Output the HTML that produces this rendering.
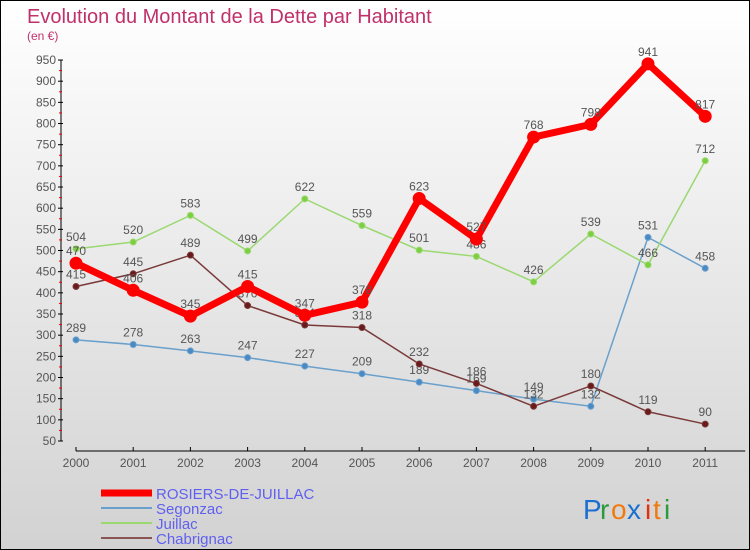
<!DOCTYPE html>
<html><head><meta charset="utf-8"><style>
body{margin:0}
#c{width:748px;height:548px;border:1px solid #000;background:linear-gradient(#fff,#d2d2d2);position:relative;font-family:"Liberation Sans",sans-serif;overflow:hidden}
</style></head><body>
<div id="c">
<svg id="s" width="748" height="548"></svg>
</div>
<script>
const years=["2000","2001","2002","2003","2004","2005","2006","2007","2008","2009","2010","2011"];
const rosiers=[470,406,345,415,347,378,623,527,768,798,941,817];
const segonzac=[289,278,263,247,227,209,189,169,149,132,531,458];
const juillac=[504,520,583,499,622,559,501,486,426,539,466,712];
const chabrignac=[415,445,489,370,324,318,232,186,132,180,119,90];
const yTicks=[50,100,150,200,250,300,350,400,450,500,550,600,650,700,750,800,850,900,950];
const NS="http://www.w3.org/2000/svg",s=document.getElementById('s');
const X=i=>75+i*57.2, Y=v=>440-(v-50)*0.4233;
function el(t,a,p){const e=document.createElementNS(NS,t);for(const k in a)e.setAttribute(k,a[k]);(p||s).appendChild(e);return e;}
function tx(x,y,str,a,p){const e=el('text',Object.assign({x:x,y:y},a),p);e.textContent=str;return e;}
let t=tx(26,22,"Evolution du Montant de la Dette par Habitant",{fill:"#c0306a","font-size":20});

t=tx(26,39,"(en €)",{fill:"#c0306a","font-size":12});

let ax=el('line',{x1:60,y1:Y(950),x2:60,y2:Y(50),stroke:"#000"});

yTicks.forEach((v,i)=>{el('line',{x1:57,x2:62,y1:Y(v),y2:Y(v),stroke:"#000"});
 if(i<yTicks.length-1)el('line',{x1:58,x2:61,y1:Y(v+25),y2:Y(v+25),stroke:"#e00"});
 const l=tx(55,Y(v)+4,String(v),{"text-anchor":"end","font-size":12,fill:"#555"});
 });
let xa=el('line',{x1:X(0),y1:450,x2:X(11)+40,y2:450,stroke:"#000"});

years.forEach((y,i)=>{el('line',{x1:X(i),x2:X(i),y1:446,y2:450,stroke:"#000"});
 const l=tx(X(i),466,y,{"text-anchor":"middle","font-size":12,fill:"#555"});
 });
function series(d,col,w,r,fill,name){
 const g=el('g',{});
 el('polyline',{points:d.map((v,i)=>X(i)+","+Y(v)).join(" "),fill:"none",stroke:col,"stroke-width":w,"stroke-linejoin":"round"},g);
 d.forEach((v,i)=>{const c=el('circle',{cx:X(i),cy:Y(v),r:r,fill:fill,stroke:col},g);
  
  tx(X(i),Y(v)-8,String(v),{"text-anchor":"middle","font-size":12,fill:"#555"});});
}
series(segonzac,"#6aa0cc",1.5,3,"#4a8ac4","segonzac");
series(juillac,"#9ad870",1.5,3,"#7cd040","juillac");
series(chabrignac,"#7a3a3a",1.5,3,"#6a1a1a","chabrignac");
series(rosiers,"#f00",7,6,"#f00","rosiers");
const leg=[["ROSIERS-DE-JUILLAC","#f00",7],["Segonzac","#6aa0cc",2],["Juillac","#9ad870",2],["Chabrignac","#8a5555",2]];
leg.forEach((l,i)=>{const g=el('g',{});
 const y=492+i*15;el('line',{x1:100,x2:151,y1:y,y2:y,stroke:l[1],"stroke-width":l[2]},g);
 tx(155,y+6,l[0],{"font-size":15,fill:"#6060f0"},g);});
const lg=el('g',{});
[["P","#1a6fd0",0],["r","#2a9a3a",17],["o","#f07a10",28],["x","#1a6fd0",44],["i","#e03010",62],["t","#f07a10",70],["i","#2a9a3a",81]].forEach(c=>{
 tx(582+c[2],518,c[0],{"font-size":28,fill:c[1]},lg);});
</script>
</body></html>
